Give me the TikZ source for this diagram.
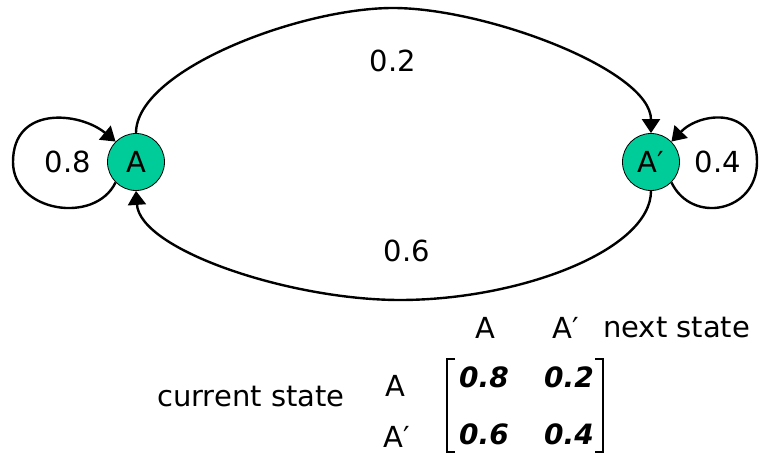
\documentclass[tikz,border=0pt]{standalone}
\usepackage{fontspec}
\setmainfont{DejaVu Sans}
\usepackage{tikz}
\usetikzlibrary{arrows.meta}
\definecolor{stategreen}{HTML}{00CC99}

\begin{document}
\begin{tikzpicture}[x=1pt, y=-1pt,
        font=\fontsize{29}{34}\selectfont,
        >={Triangle[length=14pt,width=18pt]},
        state/.style={circle, draw, line width=0.8pt, fill=stategreen,
            minimum size=57pt, inner sep=0pt},
        edge/.style={->, line width=2.4pt},
        entry/.style={anchor=base, font=\fontsize{28}{34}\selectfont\bfseries\itshape}]
        \useasboundingbox (0,0) rectangle (761,454);

        \node[state] (a) at (136,162) {A};
        \node[state] (ap) at (651,162) {A′};
        \coordinate (top) at (393,8);
        \coordinate (bottom) at (400,300);

        \draw[edge] (a.north) .. controls (136,70) and (300,8) .. (top)
            .. controls (486,8) and (651,70) .. (ap.north);
        \draw[edge] (ap.south) .. controls (651,250) and (520,300) .. (bottom)
            .. controls (290,300) and (140,250) .. (a.south);
        \draw[edge] (a.225) .. controls (95,225) and (13,212) .. (13,162)
            .. controls (13,105) and (80,112) .. (a.135);
        \draw[edge] (ap.315) .. controls (692,225) and (757,212) .. (757,162)
            .. controls (757,105) and (700,112) .. (ap.45);

        \node[anchor=base] (p02) at (393,72) {0.2};
        \node[anchor=base] (p06) at (407,262) {0.6};
        \node[anchor=base] (p08) at (68,173) {0.8};
        \node[anchor=base] (p04) at (718,173) {0.4};

        \node[anchor=base] (colA) at (485,339) {A};
        \node[anchor=base west, inner sep=0pt] (colAp) at (552,339) {A′};
        \node[anchor=base west, inner sep=0pt] (next) at (603,338) {next state};
        \node[anchor=base west, inner sep=0pt] (cur) at (157,407) {current state};
        \node[anchor=base] (rowA) at (395,397) {A};
        \node[anchor=base west, inner sep=0pt] (rowAp) at (383,447) {A′};

        \foreach \x/\y/\val in {484/388/0.8, 569/388/0.2, 484/445/0.6, 569/445/0.4}
            \node[entry] at (\x,\y) {\val};

        \draw[line width=2pt] (455,359) -- (447,359) -- (447,452) -- (455,452);
        \draw[line width=2pt] (595,359) -- (603,359) -- (603,452) -- (595,452);
    \end{tikzpicture}
\end{document}
